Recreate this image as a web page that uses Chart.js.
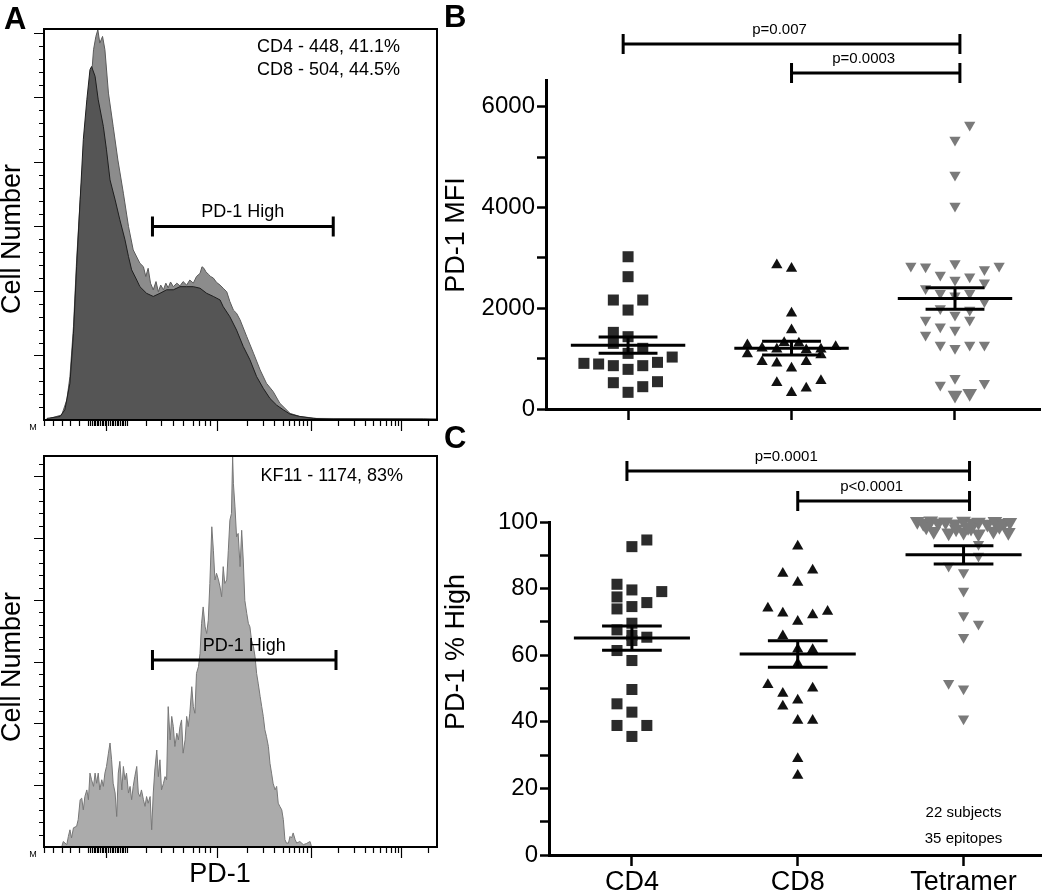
<!DOCTYPE html>
<html>
<head>
<meta charset="utf-8">
<title>PD-1 expression</title>
<script src="https://cdn.jsdelivr.net/npm/chart.js@4.4.1/dist/chart.umd.min.js"></script>
<style>
  body { margin: 0; background: #fff; }
  #fig { position: relative; width: 1050px; height: 891px; overflow: hidden; background: #fff; }
  #fig canvas { position: absolute; }
  .panel { position: absolute; font: bold 31px 'Liberation Sans', Arial, sans-serif; line-height: 31px; color: #000; }
</style>
</head>
<body>
<div id="fig">
  <canvas id="histTop" width="440" height="440" style="left:0px;top:0px"></canvas>
  <canvas id="histBottom" width="440" height="451" style="left:0px;top:440px"></canvas>
  <canvas id="mfi" width="610" height="440" style="left:440px;top:0px"></canvas>
  <canvas id="pctHigh" width="610" height="451" style="left:440px;top:440px"></canvas>
  <div class="panel" style="left:4px;top:3px">A</div>
  <div class="panel" style="left:444px;top:1px">B</div>
  <div class="panel" style="left:444px;top:422px">C</div>
</div>
<script>
const FONT = "'Liberation Sans', Arial, Helvetica, sans-serif";
Chart.defaults.font.family = FONT;
Chart.defaults.color = '#000';

// ---- panel A: PD-1 histograms (channel 0-1000, cells as % of full scale)
const cd4Channel = [7,41,53,66,75,83,92,100,109,117,121,130,138,151,159,168,181,193,206,215,223,236,244,261,278,295,312,329,346,363,380,397,414,431,448,456,473,490,507,524,541,558,575,592,609,626,651,685,736,965,1000];
const cd4Cells = [0.4,0.9,2.6,9.4,22.2,39.2,56.3,71.7,81.9,89.6,90.4,87.9,81.9,75.1,69.1,61.4,56.3,51.2,46.1,41.8,38.4,35.8,34.1,32.4,31.6,32.4,33.3,33.3,34.1,34.1,34.1,33.7,32.4,31.6,30.7,29.0,26.4,23.0,18.8,15.4,11.1,8.1,5.5,3.8,2.6,1.5,0.9,0.4,0.2,0.2,0.2];

const cd8Channel = [15,45,58,66,75,83,92,100,109,117,126,132,137,142,149,155,164,176,188,202,215,227,244,253,259,265,271,278,285,291,297,304,310,316,322,329,338,346,354,363,371,380,388,397,402,407,412,418,424,431,439,448,456,465,473,482,490,499,516,533,550,566,583,600,626,651,694,965,1000];
const cd8Cells = [0.4,1.3,5.1,11.1,23.9,40.9,56.3,66.5,75.1,82.7,94.7,98.1,99.8,96.4,98.1,94.7,83.6,75.1,66.5,58.0,49.5,43.5,40.1,39.2,36.7,38.8,35.0,33.3,35.4,32.8,34.5,33.3,35.0,33.8,35.3,34.1,35.0,34.3,35.4,34.5,35.8,35.0,36.7,37.5,39.2,38.8,37.9,37.3,36.7,36.3,35.2,34.5,33.7,32.8,30.3,28.1,27.3,25.6,21.3,17.1,12.8,9.4,7.3,4.3,1.7,0.9,0.4,0.3,0.2];

const kf11Channel = [45,49,58,62,66,70,75,83,87,92,96,100,104,109,113,117,121,126,130,134,138,142,147,151,155,159,164,168,172,176,181,185,189,193,198,202,206,210,215,219,223,227,231,236,240,244,248,253,257,261,265,270,274,278,282,287,291,295,299,304,308,312,316,321,325,329,333,338,342,346,350,354,359,363,367,371,376,380,384,388,393,397,401,405,410,414,418,422,427,431,435,439,444,448,452,456,460,465,469,473,477,480,482,486,490,494,499,503,507,511,516,520,524,528,533,537,541,545,550,554,558,562,566,571,575,579,583,588,592,596,600,605,609,613,617,622,626,630,634,639,643,651,660,668,677,681];
const kf11Cells = [0,1.4,0.6,2.7,4.4,2.3,4.9,5.3,7.0,12.1,12.5,9.5,12.9,14.6,12.1,18.9,17.2,15.5,18.9,16.3,18.9,14.6,17.2,15.5,18.9,20.6,24.0,26.6,22.3,16.3,13.8,7.8,18.9,21.9,14.6,20.6,17.2,18.9,13.8,15.5,12.1,15.5,18.0,20.6,13.8,12.9,14.6,12.1,10.4,12.9,11.2,12.9,4.4,13.8,19.7,24.8,18.0,22.3,14.6,16.3,18.0,17.2,35.9,27.4,33.4,30.8,25.7,29.1,27.4,30.8,32.5,24.0,27.4,33.4,30.8,34.2,41.0,35.9,34.2,44.4,46.1,49.5,57.2,61.4,56.3,54.6,58.0,67.4,81.9,75.9,68.3,70.0,68.3,66.5,64.0,71.7,67.4,68.3,75.9,83.6,85.3,100,92.9,87.0,79.3,80.2,71.7,81.0,73.4,63.1,59.7,57.2,56.3,52.9,51.2,48.7,44.4,41.9,38.5,35.9,33.4,30.0,28.3,25.7,21.4,18.9,16.3,14.6,15.5,11.2,10.4,9.5,7.0,1.9,1.0,1.0,2.7,2.3,3.6,1.9,1.0,1.4,0.6,0.9,1.4,0];

// biexponential PD-1 axis ticks (channel units)
const pd1MajorTicks = [159, 439, 679, 908];
const pd1MinorTicks = [0,24,45,66,89,113,117,121,126,130,134,138,142,147,151,155,164,168,172,176,181,185,189,193,198,202,206,210,259,298,329,354,378,395,410,422,516,558,586,607,624,637,649,659,668,749,789,817,838,855,869,882,893,901,978];

// PD-1 High gate: [from channel, to channel, cells level]
const gateTop = [276, 736, 49.5];
const gateBottom = [276, 743, 47.8];

// ---- panels B and C
const groups = ['CD4', 'CD8', 'Tetramer'];
const mfiTicks = [0, 1000, 2000, 3000, 4000, 5000, 6000];
const pctTicks = [0, 10, 20, 30, 40, 50, 60, 70, 80, 90, 100];

const mfiCD4 = [3022,2626,2163,2163,1964,1521,1435,1303,1204,1104,906,893,860,787,860,926,1031,522,443,542,331];
const mfiCD4Slot = [0,0,-1,1,0,-1,0,-1,1,0,-3,-2,-1,0,1,2,3,-1,1,2,0];
const mfiCD8 = [2857,2791,1898,1567,1270,1204,1184,1316,1303,1171,1184,1237,1091,939,906,807,939,1071,522,562,324,410];
const mfiCD8Slot = [-1,0,0,0,-3,-2,-1,-0.5,0.5,1,2,3,-3,-2,-1,0,1,2,-1,2,0,1];
const mfiTet = [5635,5337,4643,4028,2837,2824,2890,2771,2837,2659,2560,2626,2507,2394,2295,2250,2295,2136,1997,1964,1865,1766,1634,1567,1766,1468,1270,1204,1270,1270,476,609,510,278,311];
const mfiTetSlot = [1,0,0,0,-3,-2,0,2,3,-1,0,1,2,-2,-1,0,1,2,-1,1,0,-2,-1,0,1,-2,-1,0,1,2,-1,0,2,0,1];

const pctCD4 = [94.6,92.6,81.3,79.6,79.1,77.5,73.9,74.6,75.8,69.6,67.6,66.0,64.4,65.4,61.4,58.4,49.7,45.4,42.9,38.9,38.9,35.6];
const pctCD4Slot = [1,0,-1,0,2,-1,-1,0,1,0,-1,0,0,1,-1,0,0,-1,0,-1,1,0];
const pctCD8 = [92.7,84.5,85.5,81.8,74.1,72.6,72.1,73.1,70.1,65.8,61.8,61.6,57.4,51.1,50.1,48.5,46.5,44.7,40.4,40.4,28.9,23.9];
const pctCD8Slot = [0,-1,1,0,-2,-1,1,2,0,-1,0,1,0,-2,1,-1,0,-1,0,1,0,0];
const pctTet = [100.2,99.6,100.4,99.8,100.1,99.5,100.3,99.7,100.0,99.4,100.2,99.6,99.9,97.2,96.8,97.0,96.5,97.3,96.9,98.0,98.2,98.6,98.4,98.7,93.3,89.8,86.8,84.8,79.3,71.9,69.4,65.4,51.6,49.9,40.9];
const pctTetSlot = [-3.1,-2.7,-2.2,-1.7,-1.2,-0.6,0,0.6,1,1.6,2.1,2.7,3.1,-2,-1,0,1,2,3,-0.5,0.5,-2.5,0.3,2.4,1,1,-1,0,0,0,1,0,-1,0,0];


function xy(xs, ys) {
    return xs.map((x, i) => ({ x: x, y: ys[i] }));
}

const histExtras = {
    histTop: { minorStep: 3.3, gate: gateTop, notes: ['CD4 - 448, 41.1%', 'CD8 - 504, 44.5%'], noteY: [47, 70], noteRight: 400, titleY: 239, xTitle: false },
    histBottom: { minorStep: 3.16, gate: gateBottom, notes: ['KF11 - 1174, 83%'], noteY: [36], noteRight: 403, titleY: 227, xTitle: true }
};

// frame, ticks, gate and labels of the flow histograms
const histMarks = {
    id: 'histMarks',
    afterDraw(chart) {
        const o = histExtras[chart.canvas.id];
        const ctx = chart.ctx, a = chart.chartArea;
        const xs = chart.scales.x, ys = chart.scales.y;
        ctx.save();
        ctx.strokeStyle = '#000';
        ctx.fillStyle = '#000';
        ctx.lineWidth = 2;
        ctx.strokeRect(a.left, a.top, a.right - a.left, a.bottom - a.top);

        ctx.lineWidth = 1.2;
        ctx.beginPath();
        let i = 1;
        for (let v = o.minorStep; v < ys.max; v += o.minorStep, i++) {
            const y = Math.round(ys.getPixelForValue(v)) + 0.5;
            const len = i % 5 === 0 ? 10 : 5;
            ctx.moveTo(a.left - len, y);
            ctx.lineTo(a.left, y);
        }
        pd1MinorTicks.forEach(v => {
            const x = Math.round(xs.getPixelForValue(v)) + 0.5;
            ctx.moveTo(x, a.bottom);
            ctx.lineTo(x, a.bottom + 6);
        });
        pd1MajorTicks.forEach(v => {
            const x = Math.round(xs.getPixelForValue(v)) + 0.5;
            ctx.moveTo(x, a.bottom);
            ctx.lineTo(x, a.bottom + 11);
        });
        ctx.stroke();

        ctx.font = '9px ' + FONT;
        ctx.textAlign = 'center';
        ctx.textBaseline = 'middle';
        ctx.fillText('M', a.left - 11, a.bottom + 8);

        // gate
        const g = o.gate;
        const x1 = xs.getPixelForValue(g[0]), x2 = xs.getPixelForValue(g[1]), gy = ys.getPixelForValue(g[2]);
        ctx.lineWidth = 3;
        ctx.beginPath();
        ctx.moveTo(x1, gy); ctx.lineTo(x2, gy);
        ctx.moveTo(x1, gy - 10); ctx.lineTo(x1, gy + 10);
        ctx.moveTo(x2, gy - 10); ctx.lineTo(x2, gy + 10);
        ctx.stroke();
        ctx.font = '18px ' + FONT;
        ctx.fillText('PD-1 High', (x1 + x2) / 2, gy - 14);

        ctx.textAlign = 'right';
        o.notes.forEach((t, k) => ctx.fillText(t, o.noteRight, o.noteY[k]));

        ctx.font = '27px ' + FONT;
        ctx.textAlign = 'center';
        if (o.xTitle) ctx.fillText('PD-1', 220, 435);
        ctx.translate(13, o.titleY);
        ctx.rotate(-Math.PI / 2);
        ctx.fillText('Cell Number', 0, 0);
        ctx.restore();
    }
};

function histChart(id, datasets, padding) {
    return new Chart(document.getElementById(id), {
        type: 'line',
        data: { datasets: datasets },
        options: {
            responsive: false,
            animation: false,
            layout: { padding: padding },
            plugins: { legend: { display: false }, tooltip: { enabled: false } },
            elements: { point: { radius: 0 }, line: { tension: 0 } },
            scales: {
                x: { type: 'linear', min: 0, max: 1000, display: false },
                y: { min: 0, max: 100, display: false }
            }
        },
        plugins: [histMarks]
    });
}

histChart('histTop', [
    { label: 'CD4', data: xy(cd4Channel, cd4Cells), fill: 'origin', backgroundColor: '#555555', borderColor: '#1e1e1e', borderWidth: 1 },
    { label: 'CD8', data: xy(cd8Channel, cd8Cells), fill: 'origin', backgroundColor: '#8c8c8c', borderColor: '#5a5a5a', borderWidth: 1 }
], { left: 44, right: 3, top: 29, bottom: 20 });

histChart('histBottom', [
    { label: 'KF11', data: xy(kf11Channel, kf11Cells), fill: 'origin', backgroundColor: '#ababab', borderColor: '#777777', borderWidth: 1 }
], { left: 44, right: 3, top: 16, bottom: 44 });


// ---- scatter panels
const dotExtras = {
    mfi: { title: 'PD-1 MFI', titleY: 235, brackets: [[0.97, 3.03, 44, 'p=0.007'], [2, 3.03, 73, 'p=0.0003']], notes: [] },
    pctHigh: { title: 'PD-1 % High', titleY: 212, brackets: [[0.97, 3.036, 31, 'p=0.0001'], [2, 3.036, 61, 'p<0.0001']], notes: [['22 subjects', 373], ['35 epitopes', 399]] }
};

// mean +/- SEM bars, significance brackets and titles
const dotMarks = {
    id: 'dotMarks',
    afterDatasetsDraw(chart) {
        const ctx = chart.ctx, xs = chart.scales.x, ys = chart.scales.y;
        ctx.save();
        ctx.strokeStyle = '#000';
        ctx.lineWidth = 3;
        chart.data.datasets.forEach((ds, i) => {
            const vals = ds.data.map(p => p.y);
            const n = vals.length;
            const mean = vals.reduce((s, v) => s + v, 0) / n;
            const sd = Math.sqrt(vals.reduce((s, v) => s + (v - mean) * (v - mean), 0) / (n - 1));
            const sem = sd / Math.sqrt(n);
            const c = i + 1;
            const ym = ys.getPixelForValue(mean), yt = ys.getPixelForValue(mean + sem), yb = ys.getPixelForValue(mean - sem);
            ctx.beginPath();
            ctx.moveTo(xs.getPixelForValue(c - 0.35), ym); ctx.lineTo(xs.getPixelForValue(c + 0.35), ym);
            ctx.moveTo(xs.getPixelForValue(c - 0.18), yt); ctx.lineTo(xs.getPixelForValue(c + 0.18), yt);
            ctx.moveTo(xs.getPixelForValue(c - 0.18), yb); ctx.lineTo(xs.getPixelForValue(c + 0.18), yb);
            ctx.moveTo(xs.getPixelForValue(c), yt); ctx.lineTo(xs.getPixelForValue(c), yb);
            ctx.stroke();
        });
        ctx.restore();
    },
    afterDraw(chart) {
        const o = dotExtras[chart.canvas.id];
        const ctx = chart.ctx, xs = chart.scales.x;
        ctx.save();
        ctx.strokeStyle = '#000';
        ctx.fillStyle = '#000';
        ctx.lineWidth = 3;
        ctx.textAlign = 'center';
        ctx.textBaseline = 'middle';
        ctx.font = '15px ' + FONT;
        o.brackets.forEach(b => {
            const x1 = xs.getPixelForValue(b[0]), x2 = xs.getPixelForValue(b[1]);
            ctx.beginPath();
            ctx.moveTo(x1, b[2]); ctx.lineTo(x2, b[2]);
            ctx.moveTo(x1, b[2] - 10); ctx.lineTo(x1, b[2] + 10);
            ctx.moveTo(x2, b[2] - 10); ctx.lineTo(x2, b[2] + 10);
            ctx.stroke();
            ctx.fillText(b[3], (x1 + x2) / 2 - 12, b[2] - 14);
        });
        o.notes.forEach(t => ctx.fillText(t[0], xs.getPixelForValue(3), t[1]));
        ctx.font = '27px ' + FONT;
        ctx.translate(17, o.titleY);
        ctx.rotate(-Math.PI / 2);
        ctx.fillText(o.title, 0, 0);
        ctx.restore();
    }
};

function dots(values, slots, group, style, rotation, color, radius) {
    return {
        label: groups[group - 1],
        data: values.map((v, i) => ({ x: group + slots[i] * 0.09, y: v })),
        pointStyle: style,
        pointRotation: rotation,
        backgroundColor: color,
        borderColor: color,
        borderWidth: 0,
        pointRadius: radius,
        clip: false
    };
}

function catAxis(min, max, height, labels) {
    return {
        type: 'linear', min: min, max: max,
        afterBuildTicks: axis => { axis.ticks = groups.map((g, i) => ({ value: i + 1 })); },
        afterFit: s => { s.height = height; },
        ticks: { callback: v => labels ? groups[v - 1] : '', font: { size: 27 }, padding: 0, maxRotation: 0, autoSkip: false, color: '#000' },
        grid: { drawOnChartArea: false, tickLength: 11, tickWidth: 2.5, tickColor: '#000' },
        border: { color: '#000', width: 3 }
    };
}

function valueAxis(max, tickValues, labelEvery, width) {
    return {
        min: 0, max: max,
        afterBuildTicks: axis => { axis.ticks = tickValues.map(v => ({ value: v })); },
        afterFit: s => { s.width = width; },
        ticks: { callback: v => v % labelEvery === 0 ? v : '', autoSkip: false, font: { size: 24 }, padding: 2, color: '#000' },
        grid: { drawOnChartArea: false, tickLength: 9, tickWidth: 2.5, tickColor: '#000' },
        border: { color: '#000', width: 3 }
    };
}

new Chart(document.getElementById('mfi'), {
    type: 'scatter',
    data: { datasets: [
        dots(mfiCD4, mfiCD4Slot, 1, 'rect', 0, '#2b2b2b', 7.8),
        dots(mfiCD8, mfiCD8Slot, 2, 'triangle', 0, '#111111', 6.5),
        dots(mfiTet, mfiTetSlot, 3, 'triangle', 180, '#7a7a7a', ctx => ctx.raw && ctx.raw.y < 350 ? 8.5 : 6.5)
    ] },
    options: {
        responsive: false,
        animation: false,
        layout: { padding: { top: 80, right: 10, left: 0, bottom: 0 } },
        plugins: { legend: { display: false }, tooltip: { enabled: false } },
        scales: { x: catAxis(0.498, 3.52, 31, false), y: valueAxis(6530, mfiTicks, 2000, 106) }
    },
    plugins: [dotMarks]
});

new Chart(document.getElementById('pctHigh'), {
    type: 'scatter',
    data: { datasets: [
        dots(pctCD4, pctCD4Slot, 1, 'rect', 0, '#2b2b2b', 7.8),
        dots(pctCD8, pctCD8Slot, 2, 'triangle', 0, '#111111', 6.5),
        dots(pctTet, pctTetSlot, 3, 'triangle', 180, '#7a7a7a', ctx => ctx.raw && ctx.raw.y > 95 ? 8.5 : 6.5)
    ] },
    options: {
        responsive: false,
        animation: false,
        layout: { padding: { top: 82, right: 8, left: 0, bottom: 0 } },
        plugins: { legend: { display: false }, tooltip: { enabled: false } },
        scales: { x: catAxis(0.5, 3.47, 36, true), y: valueAxis(100, pctTicks, 20, 109) }
    },
    plugins: [dotMarks]
});
</script>
</body>
</html>
